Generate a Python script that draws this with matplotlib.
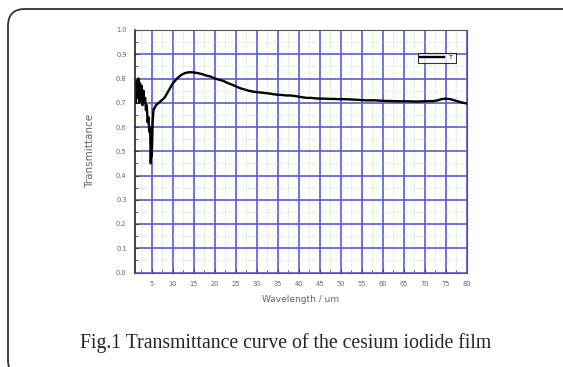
import matplotlib
matplotlib.use("Agg")
import matplotlib.pyplot as plt
from matplotlib.patches import FancyBboxPatch
from matplotlib.ticker import MultipleLocator

wavelength = [1.2, 1.4, 1.6, 1.8, 2.0, 2.2, 2.4, 2.6, 2.8, 3.0, 3.2, 3.4, 3.6, 3.8,
              4.0, 4.2, 4.4, 4.6, 4.75, 4.9, 5.0, 5.2, 5.4, 6.0, 7, 8, 9, 10, 11, 12,
              13, 14, 15, 16, 17, 18, 19, 20, 21, 22, 23, 24, 25, 26, 27, 28, 29, 30,
              31, 32, 33, 34, 35, 36, 37, 38, 39, 40, 41, 42, 43, 44, 45, 46, 47, 48,
              49, 50, 52, 54, 56, 58, 60, 62, 64, 66, 68, 70, 72, 73, 74, 75, 76, 77,
              78, 79, 80]
transmittance = [0.70, 0.79, 0.72, 0.80, 0.70, 0.78, 0.71, 0.77, 0.69, 0.75, 0.70, 0.72,
                 0.67, 0.69, 0.62, 0.64, 0.58, 0.60, 0.45, 0.55, 0.48, 0.62, 0.67, 0.69,
                 0.705, 0.72, 0.75, 0.78, 0.80, 0.815, 0.823, 0.826, 0.825, 0.822, 0.818,
                 0.812, 0.808, 0.80, 0.795, 0.79, 0.782, 0.775, 0.768, 0.76, 0.755, 0.75,
                 0.746, 0.744, 0.742, 0.74, 0.738, 0.735, 0.733, 0.732, 0.730, 0.73,
                 0.728, 0.725, 0.722, 0.72, 0.72, 0.718, 0.717, 0.717, 0.716, 0.716,
                 0.715, 0.715, 0.714, 0.712, 0.71, 0.71, 0.708, 0.707, 0.706, 0.706,
                 0.705, 0.706, 0.707, 0.71, 0.715, 0.717, 0.715, 0.71, 0.705, 0.70, 0.697]

x_ticks = [5, 10, 15, 20, 25, 30, 35, 40, 45, 50, 55, 60, 65, 70, 75, 80]
y_ticks = [0.0, 0.1, 0.2, 0.3, 0.4, 0.5, 0.6, 0.7, 0.8, 0.9, 1.0]

fig = plt.figure(figsize=(5.63, 3.67), dpi=100)
ax = fig.add_axes([135/563, 1-272.5/367, (467-135)/563, (272.5-30)/367])

ax.plot(wavelength, transmittance, color="black", lw=1.7, label="T")
ax.set_xlim(1, 80)
ax.set_ylim(0, 1.0)
ax.set_xticks(x_ticks)
ax.set_yticks(y_ticks)
ax.set_yticklabels([f"{v:.1f}" for v in y_ticks])
ax.xaxis.set_minor_locator(MultipleLocator(2.5))
ax.yaxis.set_minor_locator(MultipleLocator(0.05))
ax.grid(which="major", color="#5a5ad8", lw=1.2)
ax.grid(which="minor", color="#b5dc9c", lw=0.6, ls=":")
ax.set_axisbelow(True)
ax.tick_params(which="both", direction="in", labelsize=4.8, labelcolor="#666666",
               color="#444444")
ax.tick_params(which="major", length=3, pad=6)
ax.tick_params(which="minor", length=2)
for s in ax.spines.values():
    s.set_color("#555555")
    s.set_linewidth(0.8)
ax.spines["left"].set_color("#222222")
ax.spines["left"].set_linewidth(1.2)

ax.set_xlabel("Wavelength / um", fontsize=6.5, color="#666666", labelpad=6)
ax.set_ylabel("Transmittance", fontsize=7.5, color="#666666", labelpad=15)

leg = ax.legend(loc="upper right", bbox_to_anchor=(0.975, 0.92), fontsize=4.5,
                handlelength=3.8, frameon=True, fancybox=False, borderpad=0.4,
                handletextpad=0.8)
leg.get_frame().set_edgecolor("black")
leg.get_frame().set_linewidth(0.8)

fig.text(0.508, 1-343/367, "Fig.1 Transmittance curve of the cesium iodide film",
         family="Liberation Serif", fontsize=14.2, color="#262626",
         ha="center", va="center")

border = FancyBboxPatch((8/563, -10/367), 580/563, (367-9+10)/367,
                        boxstyle="round,pad=0,rounding_size=0.03",
                        transform=fig.transFigure, fill=False,
                        edgecolor="#333333", lw=1.3, mutation_aspect=563/367)
fig.patches.append(border)

fig.savefig("out.png", dpi=100)
